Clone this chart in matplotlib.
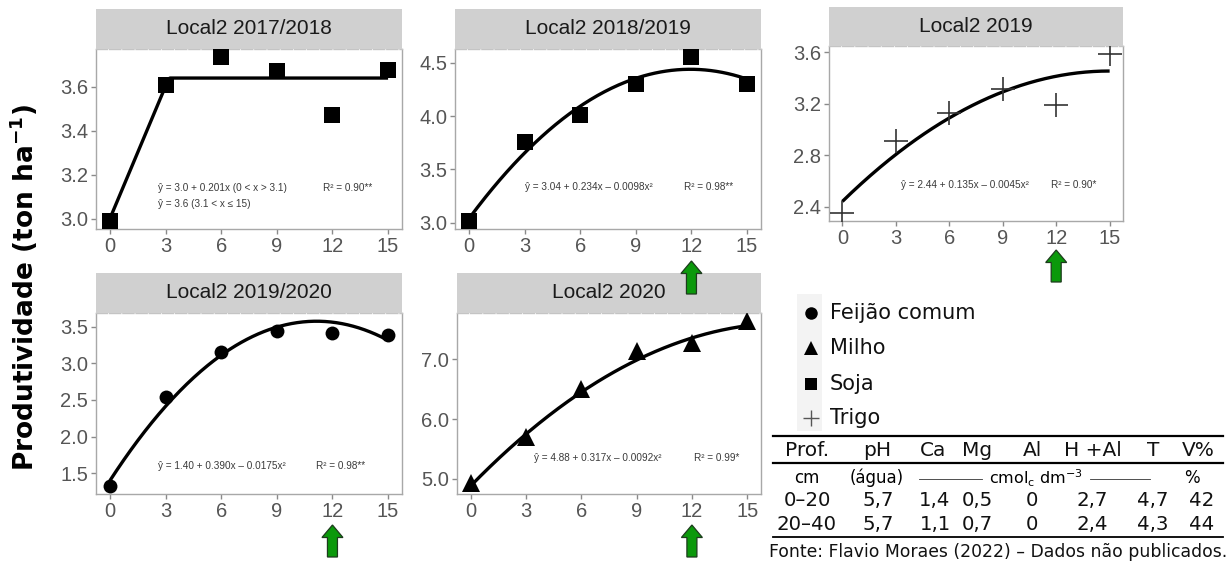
import numpy as np
import matplotlib
matplotlib.use("Agg")
import matplotlib.pyplot as plt
from matplotlib.patches import Rectangle, Polygon
import matplotlib.transforms as mtransforms

# ---------------- data ----------------
doses = [0, 3, 6, 9, 12, 15]
xticks = [0, 3, 6, 9, 12, 15]

soja_1718 = [2.99, 3.607, 3.735, 3.67, 3.47, 3.675]
soja_1819 = [3.02, 3.755, 4.01, 4.30, 4.55, 4.30]
trigo_2019 = [2.35, 2.91, 3.13, 3.315, 3.185, 3.585]
feijao_1920 = [1.33, 2.545, 3.16, 3.44, 3.41, 3.39]
milho_2020 = [4.92, 5.70, 6.50, 7.14, 7.27, 7.64]

# fitted models (coefficients as printed in the chart)
plateau_1718 = [3.0, 0.201, 3.64]          # a, b, plateau level drawn
quad_1819 = [3.04, 0.234, -0.0098]
quad_2019 = [2.44, 0.135, -0.0045]
quad_1920 = [1.40, 0.390, -0.0175]
quad_2020 = [4.88, 0.317, -0.0092]

yticks_1718 = [3.0, 3.2, 3.4, 3.6]
yticks_1819 = [3.0, 3.5, 4.0, 4.5]
yticks_2019 = [2.4, 2.8, 3.2, 3.6]
yticks_1920 = [1.5, 2.0, 2.5, 3.0, 3.5]
yticks_2020 = [5.0, 6.0, 7.0]

titles = ["Local2 2017/2018", "Local2 2018/2019", "Local2 2019",
          "Local2 2019/2020", "Local2 2020"]
eq_1718 = ["ŷ = 3.0 + 0.201x (0 < x > 3.1)", "ŷ = 3.6 (3.1 < x ≤ 15)"]
eq_1819 = ["ŷ = 3.04 + 0.234x – 0.0098x²"]
eq_2019 = ["ŷ = 2.44 + 0.135x – 0.0045x²"]
eq_1920 = ["ŷ = 1.40 + 0.390x – 0.0175x²"]
eq_2020 = ["ŷ = 4.88 + 0.317x – 0.0092x²"]
r2_labels = ["R² = 0.90**", "R² = 0.98**", "R² = 0.90*", "R² = 0.98**", "R² = 0.99*"]

highlight_dose = 12

legend_labels = ["Feijão comum", "Milho", "Soja", "Trigo"]
legend_markers = ["o", "^", "s", "+"]

table_header = ["Prof.", "pH", "Ca", "Mg", "Al", "H +Al", "T", "V%"]
table_rows = [["0–20", "5,7", "1,4", "0,5", "0", "2,7", "4,7", "42"],
              ["20–40", "5,7", "1,1", "0,7", "0", "2,4", "4,3", "44"]]
source_text = "Fonte: Flavio Moraes (2022) – Dados não publicados."
ylabel_text = "Produtividade (ton ha$^{\\mathbf{-1}}$)"

# ---------------- figure ----------------
W, H = 1228, 565
fig = plt.figure(figsize=(W / 100, H / 100), dpi=100)
fig.patch.set_facecolor("white")

overlay = fig.add_axes([0, 0, 1, 1], zorder=-1)
overlay.set_xlim(0, W)
overlay.set_ylim(H, 0)
overlay.axis("off")

TICK_FONT = "Liberation Sans"
LEG_FONT = "DejaVu Sans"


def px_axes(l, t, r, b, **kw):
    return fig.add_axes([l / W, 1 - b / H, (r - l) / W, (b - t) / H], **kw)


def make_panel(box, strip_top, title, yvals, marker, ms, mew, mcolor,
               fit_x, fit_y, yticks, eq_lines, eq_x, eq_y, eq_dy, r2, r2_x):
    l, t, r, b = box
    ax = px_axes(l, t, r, b)
    ax.plot(fit_x, fit_y, color="black", lw=2.4, solid_capstyle="butt", zorder=2)
    ax.plot(doses, yvals, linestyle="none", marker=marker, ms=ms, mew=mew,
            color=mcolor, mec=mcolor, zorder=3)
    allv = list(yvals) + list(fit_y)
    lo, hi = min(allv), max(allv)
    pad = (hi - lo) * 0.05
    ax.set_ylim(lo - pad, hi + pad)
    ax.set_xlim(-0.75, 15.75)
    ax.set_xticks(xticks)
    ax.set_xticklabels([str(v) for v in xticks])
    ax.set_yticks(yticks)
    ax.set_yticklabels([f"{v:.1f}" for v in yticks])
    ax.tick_params(axis="both", length=3.5, width=1.0, color="#8a8a8a",
                   labelsize=14.5, labelcolor="#555555", pad=2)
    for lab in ax.get_xticklabels() + ax.get_yticklabels():
        lab.set_fontfamily(TICK_FONT)
    for s in ax.spines.values():
        s.set_color("#a8a8a8")
        s.set_linewidth(1.0)
    ax.spines["top"].set_color("#c4c4c4")
    ax.spines["top"].set_linestyle((0, (8, 1.5)))
    for i, line in enumerate(eq_lines):
        ax.text(eq_x, eq_y - i * eq_dy, line, fontsize=7.2, color="#3a3a3a",
                family=TICK_FONT, va="center", ha="left")
    ax.text(r2_x, eq_y, r2, fontsize=7.2, color="#3a3a3a", family=TICK_FONT,
            va="center", ha="left")
    # strip
    sax = px_axes(l, strip_top, r, t)
    sax.set_facecolor("#d0d0d0")
    sax.set_xticks([])
    sax.set_yticks([])
    for s in sax.spines.values():
        s.set_visible(False)
    sax.text(0.5, 0.5, title, transform=sax.transAxes, ha="center",
             va="center", fontsize=15, color="#1a1a1a", family=TICK_FONT)
    return ax


xf = np.linspace(0, 15, 200)


def quad(c):
    return c[0] + c[1] * xf + c[2] * xf ** 2


a, bb, plat = plateau_1718
yf1 = np.minimum(a + bb * xf, plat)

ax1 = make_panel((96, 49, 402, 229), 9, titles[0], soja_1718, "s", 12, 0, "black",
                 xf, yf1, yticks_1718, eq_1718, 2.6, 3.14, 0.075, r2_labels[0], 11.5)
ax2 = make_panel((455, 49, 761, 229), 9, titles[1], soja_1819, "s", 12, 0, "black",
                 xf, quad(quad_1819), yticks_1819, eq_1819, 3.0, 3.34, 0, r2_labels[1], 11.6)
ax3 = make_panel((829, 46, 1123, 221), 7, titles[2], trigo_2019, "+", 17, 1.2, "#333333",
                 xf, quad(quad_2019), yticks_2019, eq_2019, 3.3, 2.57, 0, r2_labels[2], 11.7)
ax4 = make_panel((96, 313, 402, 494), 273, titles[3], feijao_1920, "o", 10, 0, "black",
                 xf, quad(quad_1920), yticks_1920, eq_1920, 2.6, 1.6, 0, r2_labels[3], 11.1)
ax5 = make_panel((457, 313, 761, 494), 273, titles[4], milho_2020, "^", 13, 0, "black",
                 xf, quad(quad_2020), yticks_2020, eq_2020, 3.45, 5.35, 0, r2_labels[4], 12.1)


# ---------------- green arrows at dose 12 ----------------
def green_arrow(ax, tip_y, tail_y):
    tr = mtransforms.blended_transform_factory(ax.transData, overlay.transData)
    hw, sw, hl = 10.5, 5.0, 12.5
    x0 = ax.transData.transform((highlight_dose, 0))[0]
    inv = ax.transData.inverted()

    def dx(p):
        return inv.transform((x0 + p, 0))[0]
    pts = [(dx(0), tip_y), (dx(hw), tip_y + hl), (dx(sw), tip_y + hl),
           (dx(sw), tail_y), (dx(-sw), tail_y), (dx(-sw), tip_y + hl),
           (dx(-hw), tip_y + hl)]
    poly = Polygon(pts, closed=True, facecolor="#0b990b", edgecolor="#1d3b1d",
                   lw=0.9, transform=tr, clip_on=False, zorder=10)
    fig.add_artist(poly)


green_arrow(ax3, 250, 282)
green_arrow(ax2, 261, 294)
green_arrow(ax4, 525, 557)
green_arrow(ax5, 525, 557)

# ---------------- y label ----------------
fig.text(24 / W, 1 - 287 / H, ylabel_text, rotation=90, ha="center", va="center",
         fontsize=19, fontweight="bold", family=LEG_FONT, color="black")

# ---------------- legend ----------------
overlay.add_patch(Rectangle((797, 294), 25, 137, facecolor="#f3f3f3",
                            edgecolor="none", zorder=0))
leg_y = [313, 348, 384, 418]
leg_ms = [9, 10, 9, 12]
for yy, lab, mk, ms in zip(leg_y, legend_labels, legend_markers, leg_ms):
    col = "#555555" if mk == "+" else "black"
    overlay.plot([811], [yy], marker=mk, ms=ms, mew=1.0 if mk == "+" else 0,
                 color=col, linestyle="none", zorder=2)
    overlay.text(830, yy, lab, fontsize=15, family=LEG_FONT, va="center",
                 ha="left", color="#111111")

# ---------------- soil table ----------------
col_x = [807, 877, 933, 977, 1032, 1093, 1153, 1198]
val_x = [807, 878, 935, 977, 1032, 1092, 1153, 1202]
overlay.plot([773, 1223], [436, 436], color="black", lw=1.6)
overlay.plot([773, 1223], [463, 463], color="black", lw=1.6)
overlay.plot([773, 1223], [537, 537], color="black", lw=1.3)
for xx, h in zip(col_x, table_header):
    overlay.text(xx, 451, h, fontsize=14.5, family=LEG_FONT, ha="center",
                 va="center", color="#111111")
overlay.text(807, 478, "cm", fontsize=12, family=LEG_FONT, ha="center", va="center")
overlay.text(877, 478, "(água)", fontsize=12, family=LEG_FONT, ha="center", va="center")
overlay.plot([919, 982], [479, 479], color="#333333", lw=0.6)
overlay.plot([1090, 1150], [479, 479], color="#333333", lw=0.6)
overlay.text(1036, 478, "cmol$_\\mathregular{c}$ dm$^\\mathregular{-3}$", fontsize=11.5,
             family=LEG_FONT, ha="center", va="center")
overlay.text(1192, 478, "%", fontsize=12, family=LEG_FONT, ha="center", va="center")
for yy, row in zip([500, 524], table_rows):
    for xx, v in zip(val_x, row):
        overlay.text(xx, yy, v, fontsize=14.2, family=LEG_FONT, ha="center",
                     va="center", color="#111111")
overlay.text(998, 552, source_text, fontsize=12.4, family=LEG_FONT, ha="center",
             va="center", color="#111111")

fig.savefig("out.png", dpi=100, facecolor="white")
